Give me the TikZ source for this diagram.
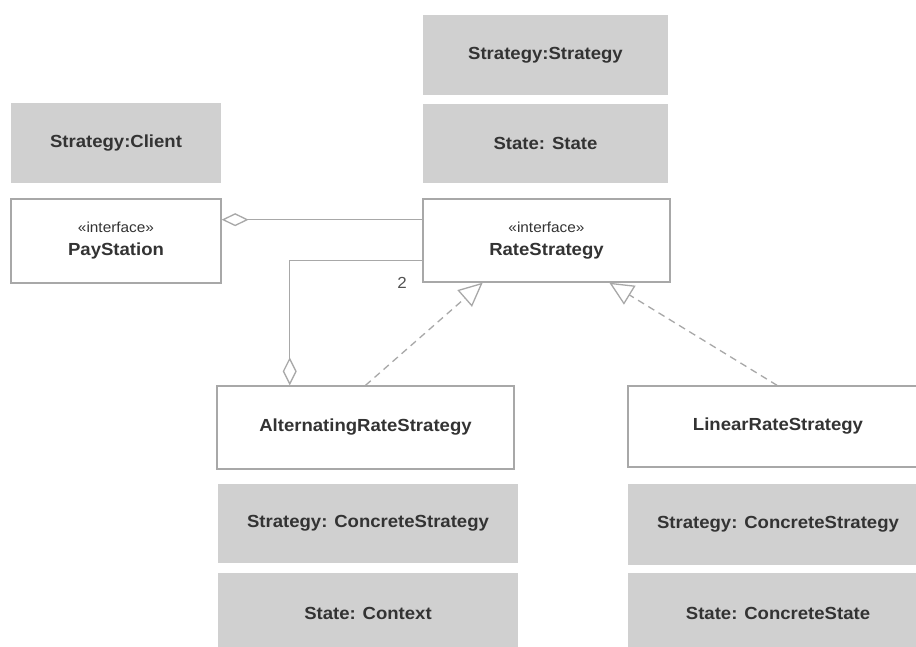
\documentclass[tikz,border=0pt]{standalone}
\usepackage{fontspec}
\setmainfont{Liberation Sans}[FakeStretch=1.06]
\usetikzlibrary{arrows.meta,calc}
\definecolor{boxgray}{HTML}{D0D0D0}
\definecolor{linegray}{HTML}{A8A8A8}
\definecolor{txt}{HTML}{333333}
\tikzset{
  role/.style={fill=boxgray, draw=none, inner sep=0pt, text=txt, font=\fontsize{17.5}{20}\selectfont\bfseries},
  cls/.style={fill=white, draw=linegray, line width=1.3pt, inner sep=0pt, text=txt, align=center, font=\fontsize{17.5}{20}\selectfont\bfseries},
  assoc/.style={draw=linegray, line width=1.3pt},
  realize/.style={draw=linegray, line width=1.3pt, dash pattern=on 7pt off 5pt},
}
\newcommand{\stereotype}{{\fontsize{14.5}{16}\selectfont\mdseries «interface»}}
\begin{document}
\begin{tikzpicture}[x=1pt,y=-1pt]
\useasboundingbox (0,0) rectangle (916,646);
\fill[white] (0,0) rectangle (916,646);
% role boxes
\node[role, minimum width=210pt, minimum height=80pt] (client) at (116,143) {Strategy:Client};
\node[role, minimum width=245pt, minimum height=80pt] (sstrat) at (545.5,55) {Strategy:Strategy};
\node[role, minimum width=245pt, minimum height=79pt] (sstate) at (545.5,143.5) {State: State};
\node[role, minimum width=300pt, minimum height=79pt] (altcs) at (368,523.5) {Strategy: ConcreteStrategy};
\node[role, minimum width=300pt, minimum height=80pt] (altctx) at (368,613) {State: Context};
\node[role, minimum width=300pt, minimum height=81pt] (lincs) at (778,524.5) {Strategy: ConcreteStrategy};
\node[role, minimum width=300pt, minimum height=80pt] (linst) at (778,613) {State: ConcreteState};
% classes
\node[cls, minimum width=210pt, minimum height=84pt] (pay) at (116,241) {\stereotype\\[3pt]PayStation};
\node[cls, minimum width=247pt, minimum height=83pt] (rate) at (546.5,240.5) {\stereotype\\[3pt]RateStrategy};
\node[cls, minimum width=297pt, minimum height=83pt] (alt) at (365.5,427.5) {AlternatingRateStrategy};
\node[cls, minimum width=300pt, minimum height=81pt] (lin) at (778,426.5) {LinearRateStrategy};
% aggregation PayStation -- RateStrategy
\coordinate (payA) at ($(pay.north east)!0.25!(pay.south east)$);
\draw[assoc, {Diamond[open, length=27pt, width=13pt, line width=1.3pt]}-] (payA) -- (payA -| rate.west);
% aggregation AlternatingRateStrategy -- RateStrategy
\coordinate (rateB) at ($(rate.north west)!0.735!(rate.south west)$);
\coordinate (altA) at ($(alt.north west)!0.246!(alt.north east)$);
\draw[assoc, {Diamond[open, length=28pt, width=14pt, line width=1.3pt]}-] (altA) |- (rateB);
\node[font=\fontsize{16}{18}\selectfont, text=txt!85] (mult) at (402,283) {2};
% realizations
\coordinate (tipL) at ($(rate.south west)!0.243!(rate.south east)$);
\coordinate (tipR) at ($(rate.south west)!0.753!(rate.south east)$);
\coordinate (linTop) at ($(lin.north west)!0.497!(lin.north east)$);
\draw[realize, -{Triangle[open, length=24pt, width=22pt, line width=1.3pt]}] (alt.north) -- (tipL);
\draw[realize, -{Triangle[open, length=24pt, width=22pt, line width=1.3pt]}] (linTop) -- (tipR);
\end{tikzpicture}
\end{document}
